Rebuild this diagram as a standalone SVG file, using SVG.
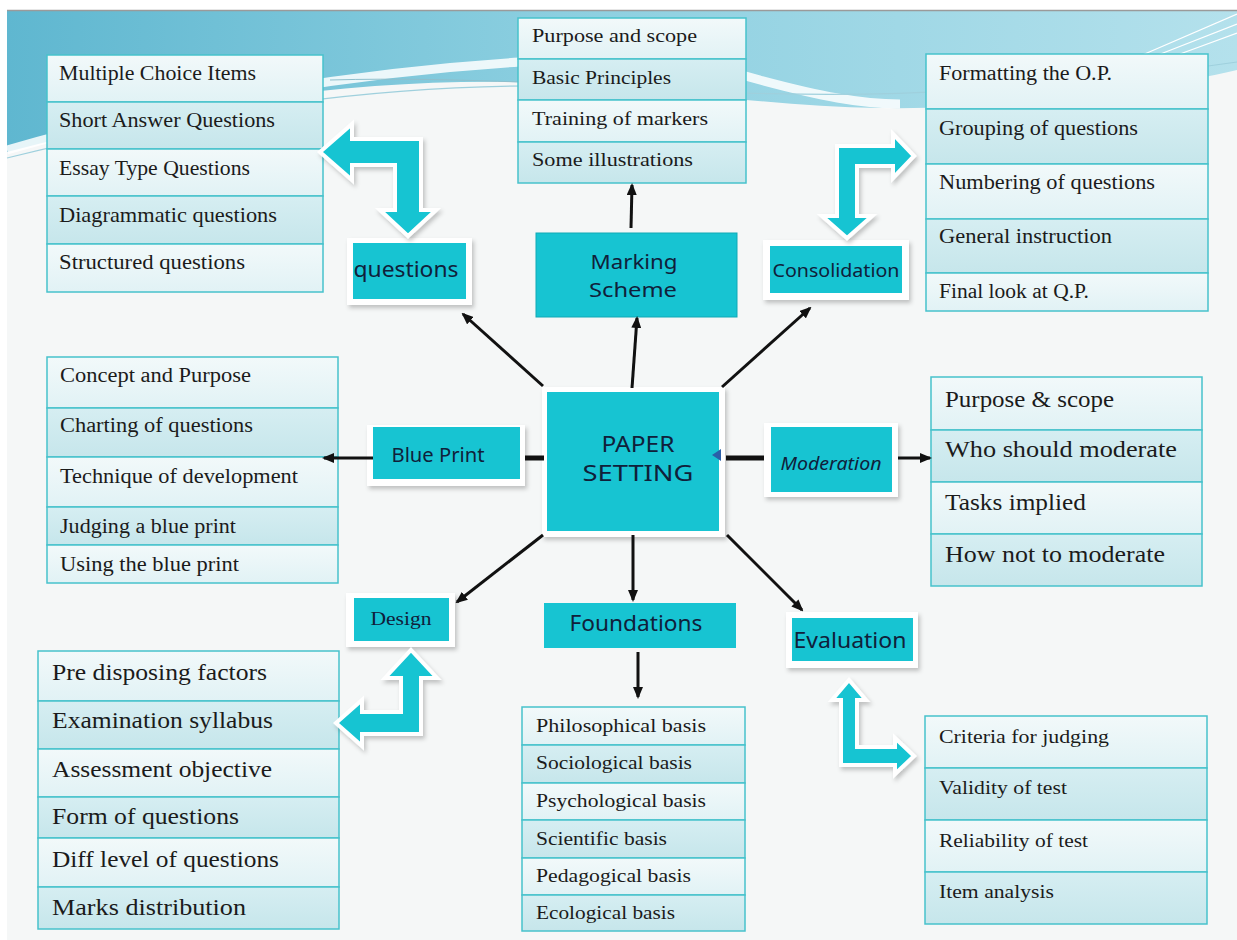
<svg xmlns="http://www.w3.org/2000/svg" width="1237" height="940" viewBox="0 0 1237 940">
<defs>
<linearGradient id="sky" x1="0" y1="0" x2="1" y2="0">
<stop offset="0" stop-color="#5fb7d0"/>
<stop offset="0.45" stop-color="#8ccfe0"/>
<stop offset="1" stop-color="#b4e1ec"/>
</linearGradient>
<linearGradient id="rowL" x1="0" y1="0" x2="0" y2="1">
<stop offset="0" stop-color="#f2f9fa"/>
<stop offset="1" stop-color="#e1f2f5"/>
</linearGradient>
<linearGradient id="rowD" x1="0" y1="0" x2="0" y2="1">
<stop offset="0" stop-color="#d6eef2"/>
<stop offset="1" stop-color="#c6e6eb"/>
</linearGradient>
<filter id="sh" x="-20%" y="-20%" width="140%" height="150%">
<feDropShadow dx="2" dy="3" stdDeviation="2" flood-color="#000" flood-opacity="0.22"/>
</filter>
<marker id="ah" viewBox="0 0 12 10" refX="10" refY="5" markerWidth="12" markerHeight="10" markerUnits="userSpaceOnUse" orient="auto">
<path d="M0,0 L12,5 L0,10 Z" fill="#111"/>
</marker>
<style>
.L{fill:url(#rowL);stroke:#47c2cc;stroke-width:1.5}
.D{fill:url(#rowD);stroke:#47c2cc;stroke-width:1.5}
.tt{font-family:"Liberation Serif",serif;fill:#1b1b1b}
.frame{fill:#ffffff;filter:url(#sh)}
.box{fill:#17c4d2}
.lab{font-family:"Noto Sans","DejaVu Sans",sans-serif;fill:#10203a;text-anchor:middle}
.blk{fill:#17c4d2;stroke:#ffffff;stroke-width:4;stroke-linejoin:miter;filter:url(#sh)}
.ln{stroke:#111;stroke-width:3;fill:none}
.thick{stroke:#111;stroke-width:5;fill:none}
</style>
</defs>

<g id="background">
<rect x="0" y="0" width="1237" height="940" fill="#ffffff"/>
<rect x="7" y="10" width="1230" height="930" fill="#f5f7f7"/>
<path d="M7,11 H1237 V70 C1150,90 1010,110 880,108 C760,106 650,86 510,82 C360,80 200,100 7,152 Z" fill="url(#sky)"/>
<path d="M7,150 C180,100 360,72 520,62 C620,56 700,62 760,80 C820,96 860,104 900,104" fill="none" stroke="#ffffff" stroke-width="9" opacity="0.85"/>
<path d="M7,158 C200,110 380,84 560,86 C760,92 900,110 1237,62" fill="none" stroke="#9fd0dd" stroke-width="1.2"/>
<path d="M330,80 C400,78 460,80 520,82" fill="none" stroke="#8fbfcc" stroke-width="1"/>
<line x1="7" y1="10.5" x2="1237" y2="10.5" stroke="#9a9a9a" stroke-width="1.5"/>
<path d="M1140,56 L1237,14 M1158,55 L1237,24 M1180,54 L1237,33" stroke="#ffffff" stroke-width="1.3" fill="none"/>
</g>

<g id="paper-setting">
<rect class="frame" x="542" y="387" width="183" height="150"/>
<rect class="box" x="547" y="392" width="172" height="139"/>
<text class="lab" x="638" y="452" font-size="21" textLength="73" lengthAdjust="spacingAndGlyphs">PAPER</text>
<text class="lab" x="638" y="481" font-size="21" textLength="111" lengthAdjust="spacingAndGlyphs">SETTING</text>
</g>

<g id="marking-scheme">
<rect class="box" x="536" y="233" width="201" height="84" stroke="#10a9b6" stroke-width="1"/>
<text class="lab" x="634" y="269" font-size="20" textLength="87" lengthAdjust="spacingAndGlyphs">Marking</text>
<text class="lab" x="633" y="297" font-size="20" textLength="88" lengthAdjust="spacingAndGlyphs">Scheme</text>
</g>

<g id="questions">
<rect class="frame" x="347" y="238" width="125" height="67"/>
<rect class="box" x="353" y="243" width="113" height="56"/>
<text class="lab" x="406" y="277" font-size="21" textLength="105" lengthAdjust="spacingAndGlyphs">questions</text>
</g>

<g id="consolidation">
<rect class="frame" x="763" y="240" width="146" height="60"/>
<rect class="box" x="770" y="246" width="132" height="47"/>
<text class="lab" x="836" y="277" font-size="18" textLength="127" lengthAdjust="spacingAndGlyphs">Consolidation</text>
</g>

<g id="blue-print">
<rect class="frame" x="367" y="425" width="158" height="61"/>
<rect class="box" x="373" y="427" width="147" height="52"/>
<text class="lab" x="438" y="462" font-size="20" textLength="93" lengthAdjust="spacingAndGlyphs">Blue Print</text>
</g>

<g id="moderation">
<rect class="frame" x="764" y="423" width="134" height="74"/>
<rect class="box" x="771" y="427" width="121" height="65"/>
<text class="lab" x="831" y="470" font-size="18" font-style="italic" textLength="101" lengthAdjust="spacingAndGlyphs">Moderation</text>
</g>

<g id="design">
<rect class="frame" x="346" y="593" width="109" height="54"/>
<rect class="box" x="354" y="598" width="95" height="43"/>
<text x="401" y="625" font-size="19" font-family="Liberation Serif, serif" fill="#10203a" text-anchor="middle" textLength="61" lengthAdjust="spacingAndGlyphs">Design</text>
</g>

<g id="foundations">
<rect class="box" x="544" y="603" width="192" height="45"/>
<text class="lab" x="636" y="631" font-size="21" textLength="133" lengthAdjust="spacingAndGlyphs">Foundations</text>
</g>

<g id="evaluation">
<rect class="frame" x="786" y="612" width="132" height="56"/>
<rect class="box" x="792" y="618" width="121" height="43"/>
<text class="lab" x="850" y="648" font-size="22" textLength="113" lengthAdjust="spacingAndGlyphs">Evaluation</text>
</g>

<g id="questions-list">
<rect class="L" x="47" y="55" width="276" height="47"/>
<rect class="D" x="47" y="102" width="276" height="47"/>
<rect class="L" x="47" y="149" width="276" height="47"/>
<rect class="D" x="47" y="196" width="276" height="48"/>
<rect class="L" x="47" y="244" width="276" height="48"/>
<text class="tt" x="59" y="80" font-size="21" textLength="197" lengthAdjust="spacingAndGlyphs">Multiple Choice Items</text>
<text class="tt" x="59" y="127" font-size="21" textLength="216" lengthAdjust="spacingAndGlyphs">Short Answer Questions</text>
<text class="tt" x="59" y="175" font-size="21" textLength="191" lengthAdjust="spacingAndGlyphs">Essay Type Questions</text>
<text class="tt" x="59" y="222" font-size="21" textLength="218" lengthAdjust="spacingAndGlyphs">Diagrammatic questions</text>
<text class="tt" x="59" y="269" font-size="21" textLength="186" lengthAdjust="spacingAndGlyphs">Structured questions</text>
</g>

<g id="marking-list">
<rect class="L" x="518" y="18" width="228" height="41"/>
<rect class="D" x="518" y="59" width="228" height="41"/>
<rect class="L" x="518" y="100" width="228" height="42"/>
<rect class="D" x="518" y="142" width="228" height="41"/>
<text class="tt" x="532" y="42" font-size="19" textLength="165" lengthAdjust="spacingAndGlyphs">Purpose and scope</text>
<text class="tt" x="532" y="84" font-size="19" textLength="139" lengthAdjust="spacingAndGlyphs">Basic Principles</text>
<text class="tt" x="532" y="125" font-size="19" textLength="176" lengthAdjust="spacingAndGlyphs">Training of markers</text>
<text class="tt" x="532" y="166" font-size="19" textLength="161" lengthAdjust="spacingAndGlyphs">Some illustrations</text>
</g>

<g id="consolidation-list">
<rect class="L" x="926" y="54" width="282" height="55"/>
<rect class="D" x="926" y="109" width="282" height="55"/>
<rect class="L" x="926" y="164" width="282" height="55"/>
<rect class="D" x="926" y="219" width="282" height="54"/>
<rect class="L" x="926" y="273" width="282" height="38"/>
<text class="tt" x="939" y="80" font-size="20" textLength="173" lengthAdjust="spacingAndGlyphs">Formatting the O.P.</text>
<text class="tt" x="939" y="135" font-size="20" textLength="199" lengthAdjust="spacingAndGlyphs">Grouping of questions</text>
<text class="tt" x="939" y="189" font-size="20" textLength="216" lengthAdjust="spacingAndGlyphs">Numbering of questions</text>
<text class="tt" x="939" y="243" font-size="20" textLength="173" lengthAdjust="spacingAndGlyphs">General instruction</text>
<text class="tt" x="939" y="298" font-size="20" textLength="150" lengthAdjust="spacingAndGlyphs">Final look at Q.P.</text>
</g>

<g id="blue-print-list">
<rect class="L" x="47" y="357" width="291" height="51"/>
<rect class="D" x="47" y="408" width="291" height="49"/>
<rect class="L" x="47" y="457" width="291" height="50"/>
<rect class="D" x="47" y="507" width="291" height="38"/>
<rect class="L" x="47" y="545" width="291" height="38"/>
<text class="tt" x="60" y="382" font-size="20" textLength="191" lengthAdjust="spacingAndGlyphs">Concept and Purpose</text>
<text class="tt" x="60" y="432" font-size="20" textLength="193" lengthAdjust="spacingAndGlyphs">Charting of questions</text>
<text class="tt" x="60" y="483" font-size="20" textLength="238" lengthAdjust="spacingAndGlyphs">Technique of development</text>
<text class="tt" x="60" y="533" font-size="20" textLength="176" lengthAdjust="spacingAndGlyphs">Judging a blue print</text>
<text class="tt" x="60" y="571" font-size="20" textLength="179" lengthAdjust="spacingAndGlyphs">Using the blue print</text>
</g>

<g id="moderation-list">
<rect class="L" x="931" y="377" width="271" height="53"/>
<rect class="D" x="931" y="430" width="271" height="52"/>
<rect class="L" x="931" y="482" width="271" height="52"/>
<rect class="D" x="931" y="534" width="271" height="52"/>
<text class="tt" x="945" y="407" font-size="24" textLength="169" lengthAdjust="spacingAndGlyphs">Purpose &amp; scope</text>
<text class="tt" x="945" y="457" font-size="24" textLength="232" lengthAdjust="spacingAndGlyphs">Who should moderate</text>
<text class="tt" x="945" y="510" font-size="24" textLength="141" lengthAdjust="spacingAndGlyphs">Tasks implied</text>
<text class="tt" x="945" y="562" font-size="24" textLength="220" lengthAdjust="spacingAndGlyphs">How not to moderate</text>
</g>

<g id="design-list">
<rect class="L" x="38" y="651" width="301" height="50"/>
<rect class="D" x="38" y="701" width="301" height="48"/>
<rect class="L" x="38" y="749" width="301" height="48"/>
<rect class="D" x="38" y="797" width="301" height="41"/>
<rect class="L" x="38" y="838" width="301" height="49"/>
<rect class="D" x="38" y="887" width="301" height="42"/>
<text class="tt" x="52" y="680" font-size="24" textLength="215" lengthAdjust="spacingAndGlyphs">Pre disposing factors</text>
<text class="tt" x="52" y="728" font-size="24" textLength="221" lengthAdjust="spacingAndGlyphs">Examination syllabus</text>
<text class="tt" x="52" y="777" font-size="24" textLength="220" lengthAdjust="spacingAndGlyphs">Assessment objective</text>
<text class="tt" x="52" y="824" font-size="24" textLength="187" lengthAdjust="spacingAndGlyphs">Form of questions</text>
<text class="tt" x="52" y="867" font-size="24" textLength="227" lengthAdjust="spacingAndGlyphs">Diff level of questions</text>
<text class="tt" x="52" y="915" font-size="24" textLength="194" lengthAdjust="spacingAndGlyphs">Marks distribution</text>
</g>

<g id="foundations-list">
<rect class="L" x="522" y="707" width="223" height="38"/>
<rect class="D" x="522" y="745" width="223" height="38"/>
<rect class="L" x="522" y="783" width="223" height="37"/>
<rect class="D" x="522" y="820" width="223" height="38"/>
<rect class="L" x="522" y="858" width="223" height="37"/>
<rect class="D" x="522" y="895" width="223" height="36"/>
<text class="tt" x="536" y="732" font-size="19" textLength="170" lengthAdjust="spacingAndGlyphs">Philosophical basis</text>
<text class="tt" x="536" y="769" font-size="19" textLength="156" lengthAdjust="spacingAndGlyphs">Sociological basis</text>
<text class="tt" x="536" y="807" font-size="19" textLength="170" lengthAdjust="spacingAndGlyphs">Psychological basis</text>
<text class="tt" x="536" y="845" font-size="19" textLength="131" lengthAdjust="spacingAndGlyphs">Scientific basis</text>
<text class="tt" x="536" y="882" font-size="19" textLength="155" lengthAdjust="spacingAndGlyphs">Pedagogical basis</text>
<text class="tt" x="536" y="919" font-size="19" textLength="139" lengthAdjust="spacingAndGlyphs">Ecological basis</text>
</g>

<g id="evaluation-list">
<rect class="L" x="925" y="716" width="282" height="52"/>
<rect class="D" x="925" y="768" width="282" height="52"/>
<rect class="L" x="925" y="820" width="282" height="52"/>
<rect class="D" x="925" y="872" width="282" height="52"/>
<text class="tt" x="939" y="743" font-size="19" textLength="170" lengthAdjust="spacingAndGlyphs">Criteria for judging</text>
<text class="tt" x="939" y="794" font-size="19" textLength="128" lengthAdjust="spacingAndGlyphs">Validity of test</text>
<text class="tt" x="939" y="847" font-size="19" textLength="149" lengthAdjust="spacingAndGlyphs">Reliability of test</text>
<text class="tt" x="939" y="898" font-size="19" textLength="115" lengthAdjust="spacingAndGlyphs">Item analysis</text>
</g>

<g id="connectors">
<path class="blk" d="M320,152 L352,124 L352,139 L421,139 L421,210 L436,210 L408,236 L380,210 L395,210 L395,165 L352,165 L352,180 Z"/>
<path class="blk" d="M914,156 L893,134 L893,146 L837,146 L837,216 L822,216 L847,238 L872,216 L857,216 L857,166 L893,166 L893,178 Z"/>
<path class="blk" d="M411,650 L437,678 L421,678 L421,734 L362,734 L362,746 L336,723 L362,700 L362,712 L401,712 L401,678 L385,678 Z"/>
<path class="blk" d="M849,680 L866,700 L857,700 L857,747 L895,747 L895,738 L914,756 L895,774 L895,765 L841,765 L841,700 L832,700 Z"/>
<line class="ln" x1="543" y1="386" x2="463" y2="314" marker-end="url(#ah)"/>
<line class="ln" x1="632" y1="388" x2="637" y2="318" marker-end="url(#ah)"/>
<line class="ln" x1="631" y1="228" x2="632" y2="185" marker-end="url(#ah)"/>
<line class="ln" x1="722" y1="387" x2="810" y2="308" marker-end="url(#ah)"/>
<line class="thick" x1="544" y1="458" x2="525" y2="458"/>
<line class="ln" x1="373" y1="458" x2="324" y2="458" marker-end="url(#ah)"/>
<line class="thick" x1="726" y1="458" x2="764" y2="458"/>
<line class="ln" x1="898" y1="458" x2="930" y2="458" marker-end="url(#ah)"/>
<polygon points="712,455 721,449 721,461" fill="#2a5fa8"/>
<line class="ln" x1="543" y1="535" x2="457" y2="602" marker-end="url(#ah)"/>
<line class="ln" x1="633" y1="535" x2="633" y2="600" marker-end="url(#ah)"/>
<line class="ln" x1="727" y1="535" x2="802" y2="610" marker-end="url(#ah)"/>
<line class="ln" x1="638" y1="652" x2="638" y2="697" marker-end="url(#ah)"/>
</g>
</svg>
